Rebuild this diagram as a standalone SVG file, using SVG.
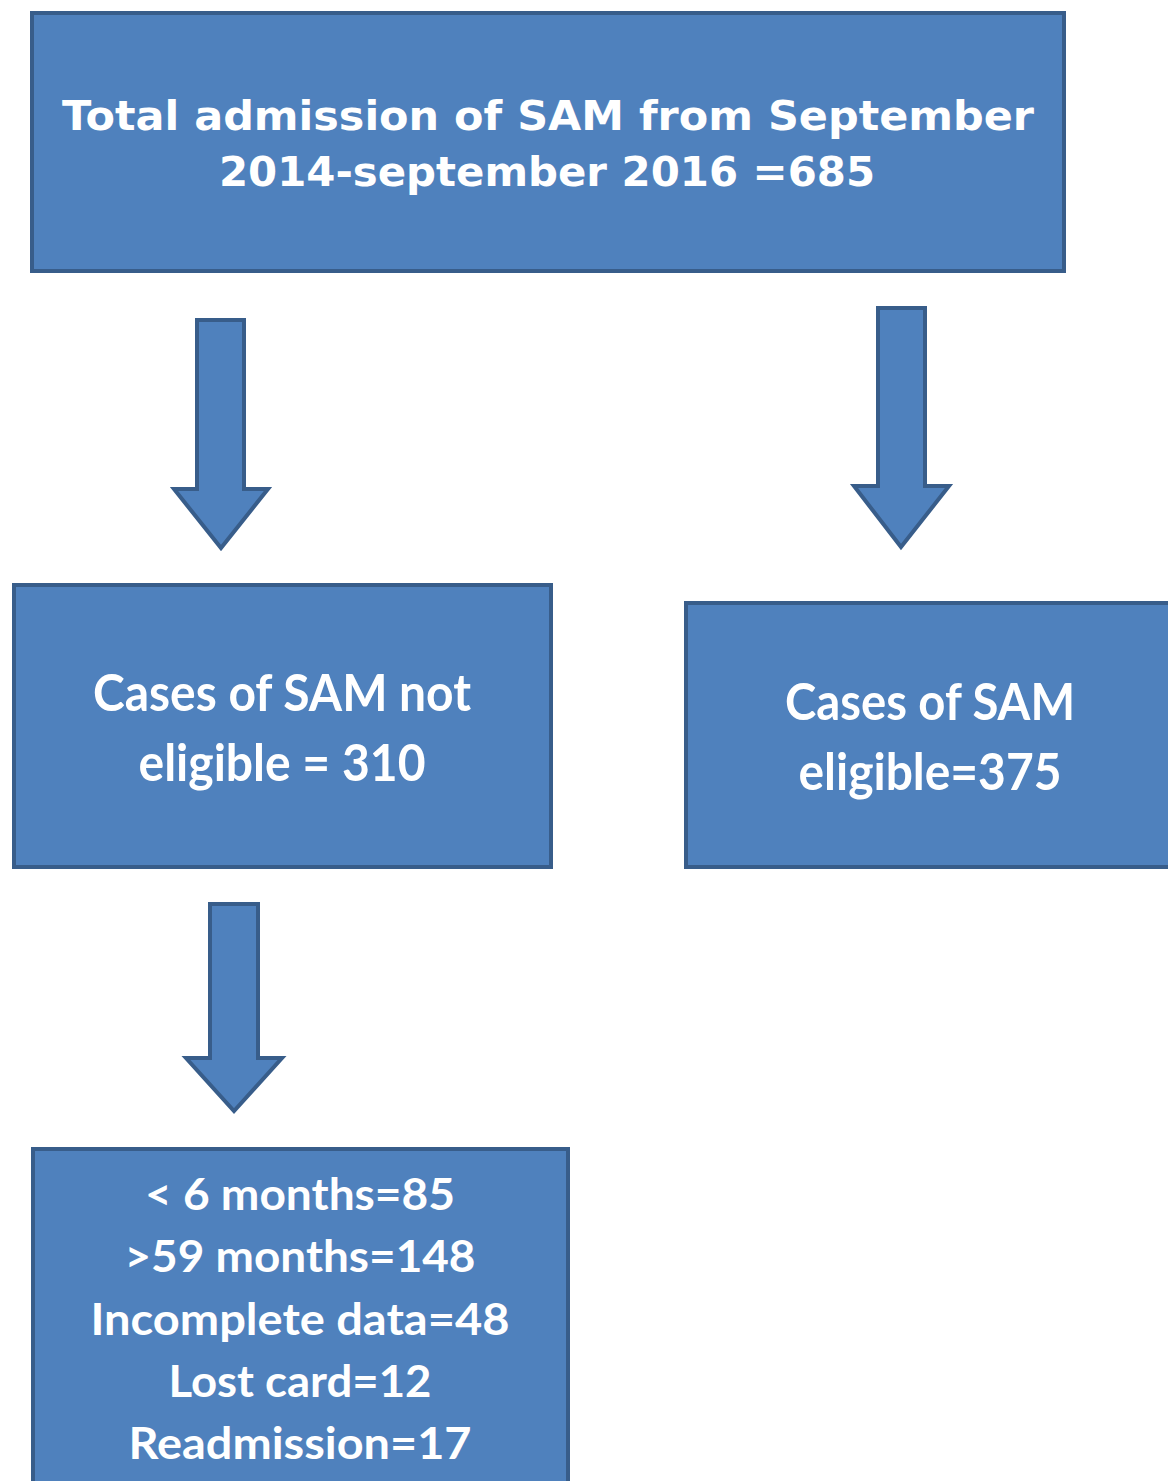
<svg xmlns="http://www.w3.org/2000/svg" width="1168" height="1481" viewBox="0 0 1168 1481">
<style>
.box{fill:#4f81bd;stroke:#385d8a;stroke-width:4}
.arrow{fill:#4f81bd;stroke:#385d8a;stroke-width:4;stroke-linejoin:miter}
.t1{font-family:"DejaVu Sans",Verdana,sans-serif;font-weight:bold;font-size:40px;fill:#fff;text-anchor:middle}
.t2{font-family:Lato,"Open Sans",sans-serif;font-weight:bold;font-size:52px;fill:#fff;text-anchor:middle}
.t3{font-family:Lato,"Open Sans",sans-serif;font-weight:bold;font-size:44px;fill:#fff;text-anchor:middle}
</style>
<rect width="1168" height="1481" fill="#fff"/>
<g id="connectors">
<path class="arrow" d="M197,320 H244 V489 H268 L221,548 L174,489 H197 Z"/>
<path class="arrow" d="M878,308 H925 V486 H949 L901,547 L854,486 H878 Z"/>
<path class="arrow" d="M210,904 H258 V1058 H282 L234,1111 L186,1058 H210 Z"/>
</g>
<g id="n-total">
<rect class="box" x="32" y="13" width="1032" height="258"/>
<text class="t1" x="548" y="130" textLength="972" lengthAdjust="spacingAndGlyphs">Total admission of SAM from September</text>
<text class="t1" x="547" y="186" textLength="656" lengthAdjust="spacingAndGlyphs">2014-september 2016 =685</text>
</g>
<g id="n-noteligible">
<rect class="box" x="14" y="585" width="537" height="282"/>
<text class="t2" x="282" y="711" textLength="378" lengthAdjust="spacingAndGlyphs">Cases of SAM not</text>
<text class="t2" x="282" y="781" textLength="287" lengthAdjust="spacingAndGlyphs">eligible = 310</text>
</g>
<g id="n-eligible">
<rect class="box" x="686" y="603" width="490" height="264"/>
<text class="t2" x="930" y="720" textLength="290" lengthAdjust="spacingAndGlyphs">Cases of SAM</text>
<text class="t2" x="930" y="790" textLength="263" lengthAdjust="spacingAndGlyphs">eligible=375</text>
</g>
<g id="n-excluded">
<rect class="box" x="33" y="1149" width="535" height="340"/>
<text class="t3" x="300" y="1210" textLength="310" lengthAdjust="spacingAndGlyphs">&lt; 6 months=85</text>
<text class="t3" x="300" y="1272" textLength="351" lengthAdjust="spacingAndGlyphs">&gt;59 months=148</text>
<text class="t3" x="300" y="1335" textLength="419" lengthAdjust="spacingAndGlyphs">Incomplete data=48</text>
<text class="t3" x="300" y="1397" textLength="263" lengthAdjust="spacingAndGlyphs">Lost card=12</text>
<text class="t3" x="300" y="1459" textLength="343" lengthAdjust="spacingAndGlyphs">Readmission=17</text>
</g>
</svg>
